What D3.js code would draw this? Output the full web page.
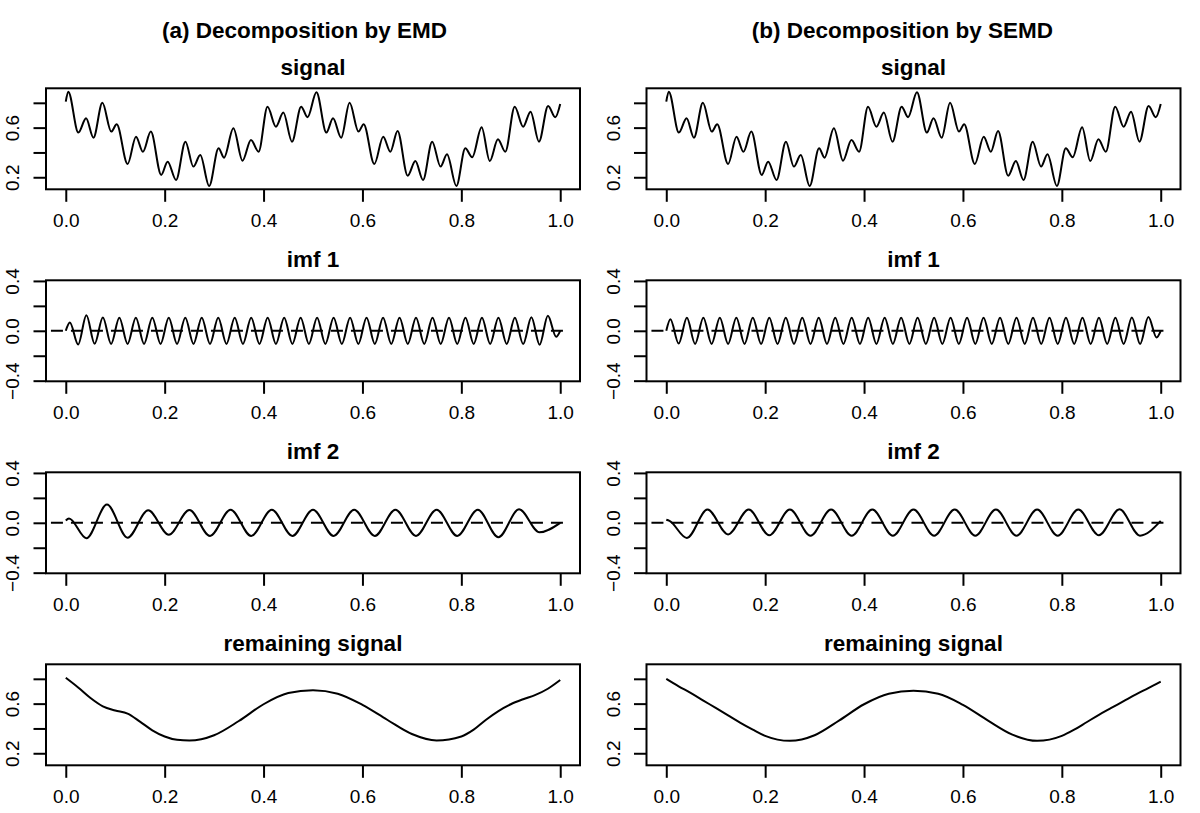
<!DOCTYPE html>
<html><head><meta charset="utf-8">
<script src="https://cdn.jsdelivr.net/npm/d3@7"></script>
<style>
body{margin:0;background:#fff}
svg{display:block}
text{font-family:"Liberation Sans",Arial,Helvetica,sans-serif;fill:#000}
</style>
</head><body><svg id="chart" width="1200" height="813"></svg>
<script>
// ---------------- data ----------------
const columnTitles = ["(a) Decomposition by EMD", "(b) Decomposition by SEMD"];
const panelTitles = ["signal", "imf 1", "imf 2", "remaining signal"];
const xTicks = [0, 0.2, 0.4, 0.6, 0.8, 1.0];
const xTickLabels = ["0.0", "0.2", "0.4", "0.6", "0.8", "1.0"];
const levelTicks = [0.2, 0.4, 0.6, 0.8];
const levelTickLabels = ["0.2", "", "0.6", ""];
const imfTicks = [-0.4, -0.2, 0, 0.2, 0.4];
const imfTickLabels = ["\u22120.4", "", "0.0", "", "0.4"];
const zeroLineSpan = [-0.03, 1.02];

// signal: local extrema (same signal in both columns)
const signalX = [0, 0.005, 0.0255, 0.041, 0.056, 0.074, 0.092, 0.103, 0.125, 0.142, 0.156, 0.172, 0.193, 0.206, 0.223, 0.242, 0.258, 0.272, 0.29, 0.309, 0.32, 0.339, 0.3575, 0.3745, 0.39, 0.408, 0.425, 0.44, 0.4575, 0.476, 0.489, 0.507, 0.527, 0.5405, 0.557, 0.574, 0.592, 0.6025, 0.624, 0.642, 0.6565, 0.671, 0.6915, 0.707, 0.7225, 0.741, 0.758, 0.771, 0.79, 0.808, 0.822, 0.841, 0.8575, 0.874, 0.889, 0.908, 0.925, 0.94, 0.957, 0.9755, 0.99, 1.0];
const signalY = [0.81, 0.89, 0.56, 0.676, 0.519, 0.80, 0.568, 0.627, 0.307, 0.527, 0.406, 0.568, 0.219, 0.326, 0.178, 0.487, 0.286, 0.38, 0.13, 0.434, 0.358, 0.595, 0.334, 0.50, 0.406, 0.769, 0.608, 0.721, 0.487, 0.769, 0.684, 0.885, 0.56, 0.676, 0.519, 0.80, 0.568, 0.627, 0.307, 0.527, 0.406, 0.573, 0.213, 0.331, 0.178, 0.487, 0.286, 0.385, 0.13, 0.434, 0.361, 0.603, 0.331, 0.506, 0.406, 0.769, 0.608, 0.729, 0.487, 0.775, 0.684, 0.791];

// imf 1: local extrema
const imf1X = [0, 0.0083, 0.025, 0.0417, 0.0583, 0.075, 0.0917, 0.1083, 0.125, 0.1417, 0.1583, 0.175, 0.1917, 0.2083, 0.225, 0.2417, 0.2583, 0.275, 0.2917, 0.3083, 0.325, 0.3417, 0.3583, 0.375, 0.3917, 0.4083, 0.425, 0.4417, 0.4583, 0.475, 0.4917, 0.5083, 0.525, 0.5417, 0.5583, 0.575, 0.5917, 0.6083, 0.625, 0.6417, 0.6583, 0.675, 0.6917, 0.7083, 0.725, 0.7417, 0.7583, 0.775, 0.7917, 0.8083, 0.825, 0.8417, 0.8583, 0.875, 0.8917, 0.9083, 0.925, 0.9417, 0.9583, 0.975, 0.9917, 1.0];
const imf1EMD = [0, 0.066, -0.11, 0.124, -0.104, 0.106, -0.105, 0.105, -0.105, 0.105, -0.105, 0.105, -0.105, 0.105, -0.105, 0.105, -0.105, 0.105, -0.105, 0.105, -0.105, 0.105, -0.105, 0.105, -0.105, 0.105, -0.105, 0.105, -0.105, 0.105, -0.105, 0.105, -0.105, 0.105, -0.105, 0.105, -0.105, 0.105, -0.105, 0.105, -0.105, 0.105, -0.105, 0.105, -0.105, 0.105, -0.105, 0.105, -0.105, 0.105, -0.105, 0.105, -0.105, 0.105, -0.105, 0.105, -0.106, 0.108, -0.112, 0.12, -0.048, 0];
const imf1SEMD = [0, 0.093, -0.102, 0.104, -0.105, 0.105, -0.105, 0.105, -0.105, 0.105, -0.105, 0.105, -0.105, 0.105, -0.105, 0.105, -0.105, 0.105, -0.105, 0.105, -0.105, 0.105, -0.105, 0.105, -0.105, 0.105, -0.105, 0.105, -0.105, 0.105, -0.105, 0.105, -0.105, 0.105, -0.105, 0.105, -0.105, 0.105, -0.105, 0.105, -0.105, 0.105, -0.105, 0.105, -0.105, 0.105, -0.105, 0.105, -0.105, 0.105, -0.105, 0.105, -0.105, 0.105, -0.105, 0.105, -0.105, 0.106, -0.106, 0.111, -0.053, 0];

// imf 2: local extrema
const imf2X = [0, 0.0065, 0.0417, 0.0833, 0.125, 0.1667, 0.2083, 0.25, 0.2917, 0.3333, 0.375, 0.4167, 0.4583, 0.5, 0.5417, 0.5833, 0.625, 0.6667, 0.7083, 0.75, 0.7917, 0.8333, 0.875, 0.9167, 0.958, 1.0];
const imf2EMD = [0.018, 0.035, -0.124, 0.146, -0.119, 0.10, -0.096, 0.103, -0.105, 0.105, -0.105, 0.105, -0.105, 0.105, -0.105, 0.105, -0.105, 0.105, -0.105, 0.105, -0.105, 0.105, -0.116, 0.108, -0.076, 0.0];
const imf2SEMD = [0.024, 0.015, -0.122, 0.106, -0.093, 0.106, -0.1, 0.106, -0.103, 0.106, -0.103, 0.106, -0.103, 0.106, -0.103, 0.106, -0.103, 0.106, -0.103, 0.106, -0.103, 0.106, -0.1, 0.108, -0.103, 0.015];

// remaining signal
const remainX = [0, 0.025, 0.05, 0.075, 0.1, 0.125, 0.15, 0.175, 0.2, 0.225, 0.25, 0.3, 0.35, 0.4, 0.45, 0.5, 0.55, 0.6, 0.65, 0.7, 0.75, 0.8, 0.825, 0.85, 0.875, 0.9, 0.925, 0.95, 0.975, 1.0];
const remainEMD = [0.808, 0.73, 0.645, 0.578, 0.545, 0.52, 0.455, 0.385, 0.335, 0.308, 0.302, 0.345, 0.46, 0.595, 0.685, 0.708, 0.68, 0.59, 0.47, 0.355, 0.303, 0.335, 0.39, 0.47, 0.54, 0.595, 0.635, 0.67, 0.72, 0.79];
const remainSEMD = [0.80, 0.74, 0.685, 0.625, 0.565, 0.505, 0.445, 0.39, 0.34, 0.31, 0.30, 0.345, 0.465, 0.595, 0.68, 0.703, 0.68, 0.59, 0.465, 0.35, 0.30, 0.34, 0.39, 0.45, 0.51, 0.565, 0.62, 0.675, 0.725, 0.778];

// ---------------- layout ----------------
const svg = d3.select("#chart");
const cols = [{x0: 46, x1: 580, cx: 304.5}, {x0: 646.5, x1: 1180.5, cx: 902.5}];
const rowTops = [88.3, 280.3, 472.3, 664.3];
const boxH = 101;
const levelDomain = [0.103, 0.917];
const imfDomain = [-0.405, 0.405];
const xDomain = [-0.04, 1.04];

const columns = [
  [
    {xs: signalX, ys: signalY, kind: "level"},
    {xs: imf1X, ys: imf1EMD, kind: "imf"},
    {xs: imf2X, ys: imf2EMD, kind: "imf"},
    {xs: remainX, ys: remainEMD, kind: "level"}
  ],
  [
    {xs: signalX, ys: signalY, kind: "level"},
    {xs: imf1X, ys: imf1SEMD, kind: "imf"},
    {xs: imf2X, ys: imf2SEMD, kind: "imf"},
    {xs: remainX, ys: remainSEMD, kind: "level"}
  ]
];

const TICK = 12.5, LW = 2;
const FONT = '"Liberation Sans",Arial,Helvetica,sans-serif';

columns.forEach((panels, ci) => {
  const col = cols[ci];
  svg.append("text")
    .attr("x", col.cx).attr("y", 38)
    .attr("text-anchor", "middle")
    .style("font-size", "22.5px").style("font-weight", "bold")
    .text(columnTitles[ci]);

  panels.forEach((p, ri) => {
    const top = rowTops[ri];
    const x = d3.scaleLinear().domain(xDomain).range([col.x0, col.x1]);
    const y = d3.scaleLinear().domain(p.kind === "level" ? levelDomain : imfDomain).range([top + boxH, top]);
    const g = svg.append("g");

    g.append("text")
      .attr("x", (col.x0 + col.x1) / 2).attr("y", top - 13.3)
      .attr("text-anchor", "middle")
      .style("font-size", "22.5px").style("font-weight", "bold")
      .text(panelTitles[ri]);

    if (p.kind === "imf") {
      g.append("line")
        .attr("x1", x(zeroLineSpan[0])).attr("x2", x(zeroLineSpan[1]))
        .attr("y1", y(0)).attr("y2", y(0))
        .attr("stroke", "#000").attr("stroke-width", LW)
        .attr("stroke-dasharray", "12,8");
    }

    const pts = p.xs.map((v, i) => [v, p.ys[i]]);
    g.append("path")
      .datum(pts)
      .attr("fill", "none").attr("stroke", "#000").attr("stroke-width", LW)
      .attr("stroke-linejoin", "round")
      .attr("d", d3.line().x(d => x(d[0])).y(d => y(d[1])).curve(d3.curveMonotoneX));

    g.append("rect")
      .attr("x", col.x0).attr("y", top)
      .attr("width", col.x1 - col.x0).attr("height", boxH)
      .attr("fill", "none").attr("stroke", "#000").attr("stroke-width", LW);

    const xa = g.append("g").attr("transform", `translate(0,${top + boxH})`)
      .call(d3.axisBottom(x).tickValues(xTicks).tickFormat((d, i) => xTickLabels[i])
        .tickSize(TICK).tickSizeOuter(0).tickPadding(12));
    xa.select(".domain").remove();
    xa.selectAll("line").attr("stroke", "#000").attr("stroke-width", LW);
    xa.selectAll("text").style("font-size", "19px").attr("fill", "#000").style("font-family", FONT);

    const yt = p.kind === "level" ? levelTicks : imfTicks;
    const yl = p.kind === "level" ? levelTickLabels : imfTickLabels;
    const ya = g.append("g").attr("transform", `translate(${col.x0},0)`)
      .call(d3.axisLeft(y).tickValues(yt).tickFormat((d, i) => yl[i])
        .tickSize(TICK).tickSizeOuter(0));
    ya.select(".domain").remove();
    ya.selectAll("line").attr("stroke", "#000").attr("stroke-width", LW);
    ya.selectAll("text")
      .attr("x", 0).attr("y", -27).attr("dy", null)
      .attr("transform", "rotate(-90)")
      .attr("text-anchor", "middle").attr("fill", "#000")
      .style("font-size", "19px").style("font-family", FONT);
  });
});
</script>
</body></html>
